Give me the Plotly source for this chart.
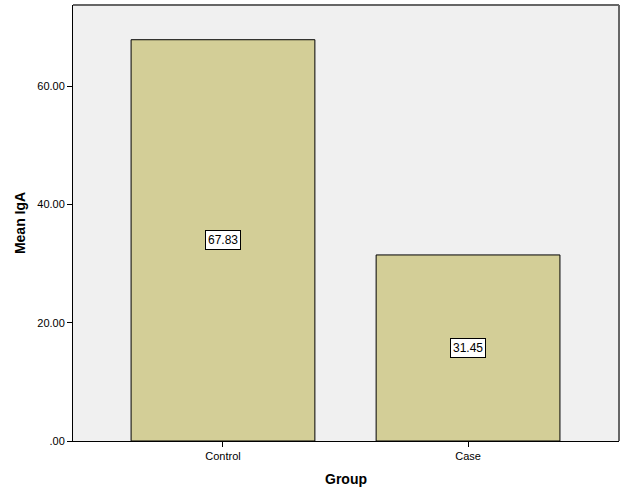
import plotly.graph_objects as go

categories = ["Control", "Case"]
mean_iga = [67.83, 31.45]
tick_vals = [0, 20, 40, 60]
tick_text = [".00", "20.00", "40.00", "60.00"]

fig = go.Figure()
fig.add_trace(go.Bar(
    x=categories, y=mean_iga, width=0.75,
    marker=dict(color="#D3CE97", line=dict(color="#000000", width=1)),
    hoverinfo="skip",
))

for c, v in zip(categories, mean_iga):
    fig.add_annotation(
        x=c, y=v / 2, text=f"{v:.2f}", showarrow=False,
        font=dict(family="Liberation Sans, Arial", size=12, color="black"),
        bgcolor="white", bordercolor="black", borderwidth=1, borderpad=2,
    )

# top and right frame lines (gray)
fig.add_shape(type="line", xref="paper", yref="paper", x0=0, x1=1, y0=1, y1=1,
              line=dict(color="#666666", width=2), layer="above")
fig.add_shape(type="line", xref="paper", yref="paper", x0=1, x1=1, y0=0, y1=1,
              line=dict(color="#666666", width=2), layer="above")

fig.update_layout(
    width=626, height=501,
    margin=dict(l=73, r=7, t=5, b=60),
    paper_bgcolor="white", plot_bgcolor="#F0F0F0",
    showlegend=False,
    font=dict(family="Liberation Sans, Arial", size=11, color="black"),
    xaxis=dict(
        type="category", range=[-0.612, 1.616],
        showline=True, linecolor="black", linewidth=1,
        ticks="outside", ticklen=5, tickcolor="black",
        showgrid=False, zeroline=False,
        title=dict(text="<b>Group</b>", font=dict(size=14), standoff=12),
    ),
    yaxis=dict(
        range=[0, 73.7],
        tickvals=tick_vals, ticktext=tick_text,
        showline=True, linecolor="black", linewidth=1,
        ticks="outside", ticklen=5, tickcolor="black",
        showgrid=False, zeroline=False,
        title=dict(text="<b>Mean IgA</b>", font=dict(size=14), standoff=8),
    ),
)

fig.write_html("out.html", config={"displayModeBar": False},
               post_script="document.body.style.margin='0';document.body.style.overflow='hidden';")
